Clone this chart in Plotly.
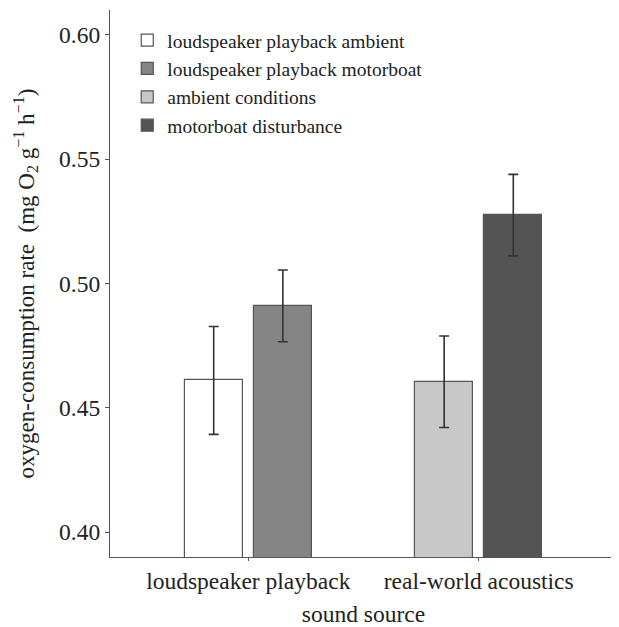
import plotly.graph_objects as go

categories = ["loudspeaker playback", "real-world acoustics"]
series_names = ["loudspeaker playback ambient", "loudspeaker playback motorboat",
                "ambient conditions", "motorboat disturbance"]
series_category = ["loudspeaker playback", "loudspeaker playback",
                   "real-world acoustics", "real-world acoustics"]
series_values = [0.461, 0.491, 0.4605, 0.5275]
series_errors = [0.0217, 0.0144, 0.0184, 0.0164]
series_colors = ["#ffffff", "#858585", "#c8c8c8", "#545454"]
bar_offsets = [-0.275, 0.025, -0.275, 0.025]
y_ticks = [0.40, 0.45, 0.50, 0.55, 0.60]

FONT = "Liberation Serif, Times New Roman, serif"
TXT = "#222222"

fig = go.Figure()
for name, cat, val, err, col, off in zip(series_names, series_category, series_values,
                                         series_errors, series_colors, bar_offsets):
    fig.add_trace(go.Bar(
        x=[cat], y=[val], name=name,
        width=0.25, offset=off,
        marker=dict(color=col, line=dict(color="#555555", width=1.2)),
        error_y=dict(type="data", array=[err], visible=True, color="#333333",
                     thickness=1.6, width=5),
    ))

fig.update_layout(
    width=611, height=619,
    margin=dict(l=102, r=2, t=2, b=63),
    plot_bgcolor="white", paper_bgcolor="white",
    font=dict(family=FONT, color=TXT, size=23),
    showlegend=True,
    legend=dict(x=0.034, y=0.98, xanchor="left", yanchor="top",
                font=dict(family=FONT, size=19.5, color=TXT),
                bgcolor="rgba(0,0,0,0)", itemwidth=30, tracegroupgap=0),
    bargap=0,
)
fig.update_xaxes(
    type="category", categoryorder="array", categoryarray=categories,
    range=[-0.6, 1.6],
    showline=True, linecolor="#555555", linewidth=1.2,
    ticks="outside", ticklen=3, tickcolor="#555555",
    tickfont=dict(family=FONT, size=23.5, color=TXT),
    title=dict(text="sound source", font=dict(family=FONT, size=23.5, color=TXT), standoff=14),
    showgrid=False, zeroline=False,
)
fig.update_yaxes(
    range=[0.39, 0.61], tickvals=y_ticks, ticktext=[f"{v:.2f}" for v in y_ticks],
    showline=True, linecolor="#555555", linewidth=1.2,
    ticks="outside", ticklen=4, tickcolor="#555555",
    tickfont=dict(family=FONT, size=23.5, color=TXT),
    title=dict(text="oxygen-consumption rate  (mg O<sub>2</sub> g<sup>−1</sup> h<sup>−1</sup>)",
               font=dict(family=FONT, size=23, color=TXT), standoff=18),
    showgrid=False, zeroline=False,
)

fig.write_html("out.html")
